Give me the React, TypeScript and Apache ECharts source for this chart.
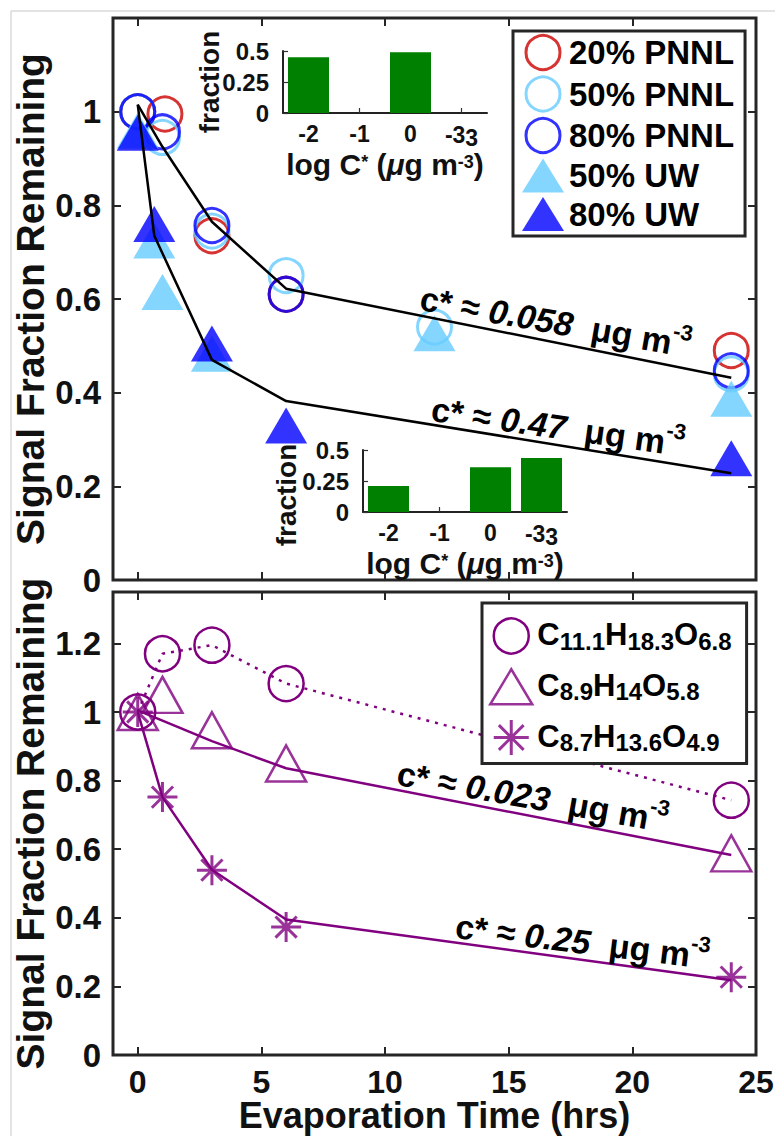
import React, { useEffect, useRef } from 'react';
import * as echarts from 'echarts';

// ---------- data ----------
const xTicks = [0, 5, 10, 15, 20, 25];
const yTicksTop = [0, 0.2, 0.4, 0.6, 0.8, 1];
const yTicksBottom = [0, 0.2, 0.4, 0.6, 0.8, 1, 1.2];

// top panel (time in hrs, signal fraction remaining)
const pnnl20 = [[0, 1.0], [1.1, 0.995], [3, 0.735], [6, 0.61], [24, 0.49]];
const pnnl50 = [[0, 1.0], [1, 0.945], [3, 0.745], [6, 0.65], [12, 0.54], [24, 0.44]];
const pnnl80 = [[0, 1.0], [1, 0.957], [3, 0.757], [6, 0.61], [24, 0.447]];
const uw50 = [[0, 0.96], [0.67, 0.725], [1, 0.615], [3, 0.483], [12, 0.527], [24, 0.387]];
const uw80 = [[0, 0.955], [0.67, 0.76], [3, 0.505], [6, 0.33], [24, 0.26]];
const fitTopA = [[0, 1.015], [1, 0.925], [3, 0.765], [6, 0.622], [24, 0.432]];
const fitTopB = [[0, 1.015], [0.67, 0.735], [3, 0.47], [6, 0.382], [24, 0.228]];

// bottom panel
const circData = [[0, 1.0], [1, 1.17], [3, 1.195], [6, 1.083], [24, 0.743]];
const triData = [[0, 1.0], [1, 1.05], [3, 0.947], [6, 0.85], [24, 0.588]];
const astData = [[0, 1.0], [1, 0.752], [3, 0.539], [6, 0.373], [24, 0.227]];
const fitTri = [[0, 1.005], [1, 0.975], [3, 0.915], [6, 0.836], [24, 0.583]];
const fitAst = [[0, 1.0], [1, 0.752], [3, 0.54], [6, 0.395], [24, 0.218]];

// insets
const logC = [-2, -1, 0, 1];
const logCLabels = ['-2', '-1', '0', '{a|-3}{b|3}'];
const fracInset1 = [0.45, 0, 0.49, 0];
const fracInset2 = [0.21, 0, 0.36, 0.435];
const insetYTicks = [0, 0.25, 0.5];

const legendTop = ['20% PNNL', '50% PNNL', '80% PNNL', '50% UW', '80% UW'];
const legendBottom = ['C11.1H18.3O6.8', 'C8.9H14O5.8', 'C8.7H13.6O4.9'];
const legendBottomRich: Record<string, string> = {
  'C11.1H18.3O6.8': '{n|C}{s|11.1}{n|H}{s|18.3}{n|O}{s|6.8}',
  'C8.9H14O5.8': '{n|C}{s|8.9}{n|H}{s|14}{n|O}{s|5.8}',
  'C8.7H13.6O4.9': '{n|C}{s|8.7}{n|H}{s|13.6}{n|O}{s|4.9}',
};

// ---------- styles ----------
const FONT = "'Liberation Sans', Arial, Helvetica, sans-serif";
const RED = '#cc0000';
const LB = '#66ccff';
const BLUE = '#0000ff';
const PURPLE = '#800080';
const GREEN = '#008000';
const FRAME = '#262626';
const NOFILL = 'rgba(0,0,0,0)';
const ASTER = 'path://M0,-10L0,10M-10,0L10,0M-7.07,-7.07L7.07,7.07M-7.07,7.07L7.07,-7.07';

const tickStyle = () => ({ inside: true, length: 8, lineStyle: { color: FRAME, width: 2 } });

function mainX(gridIndex: number, position: 'top' | 'bottom', labels: boolean, name?: string) {
  return {
    type: 'value', gridIndex, position, min: -1, max: 25,
    axisLine: { show: false, onZero: false },
    splitLine: { show: false },
    axisTick: { ...tickStyle(), customValues: xTicks },
    axisLabel: labels
      ? { show: true, customValues: xTicks, margin: 14, fontFamily: FONT, fontSize: 32, fontWeight: 'bold', color: '#111', lineHeight: 26 }
      : { show: false },
    name: name || '',
    nameLocation: 'middle', nameGap: 44, nameMoveOverlap: false,
    nameTextStyle: { fontFamily: FONT, fontSize: 36, fontWeight: 'bold', color: '#111', lineHeight: 32 },
  };
}

function mainY(gridIndex: number, position: 'left' | 'right', labels: boolean, max: number, ticks: number[]) {
  return {
    type: 'value', gridIndex, position, min: 0, max,
    axisLine: { show: false, onZero: false },
    splitLine: { show: false },
    axisTick: { ...tickStyle(), customValues: ticks },
    axisLabel: labels
      ? { show: true, customValues: ticks, margin: 12, fontFamily: FONT, fontSize: 33, fontWeight: 'bold', color: '#111' }
      : { show: false },
    name: labels ? 'Signal Fraction Remaining' : '',
    nameLocation: 'middle', nameGap: 63, nameMoveOverlap: false,
    nameTextStyle: { fontFamily: FONT, fontSize: 39, fontWeight: 'bold', color: '#111', lineHeight: 40 },
  };
}

const insetAxisLine = () => ({ show: true, onZero: false, lineStyle: { color: '#222222', width: 2 } });
const insetTick = () => ({ show: true, inside: true, length: 5, lineStyle: { color: '#333333', width: 1.2 } });

function insetX(gridIndex: number) {
  return {
    type: 'value', gridIndex, position: 'bottom', min: -2.5, max: 1.5,
    axisLine: insetAxisLine(), splitLine: { show: false },
    axisTick: { ...insetTick(), customValues: logC },
    axisLabel: {
      show: true, customValues: logC, margin: 10,
      formatter: (v: number) => logCLabels[logC.indexOf(Math.round(v))] ?? '',
      fontFamily: FONT, fontSize: 23, fontWeight: 'bold', color: '#111', lineHeight: 22,
      rich: {
        a: { fontFamily: FONT, fontSize: 23, fontWeight: 'bold', color: '#111', lineHeight: 22, verticalAlign: 'top' },
        b: { fontFamily: FONT, fontSize: 23, fontWeight: 'bold', color: '#111', lineHeight: 26, verticalAlign: 'bottom' },
      },
    },
    name: '{m|log C}{sup|*}{m| (}{mu|μ}{m|g m}{sup|-3}{m|)}',
    nameLocation: 'middle', nameGap: 40, nameMoveOverlap: false,
    nameTextStyle: {
      fontFamily: FONT, fontSize: 30, fontWeight: 'bold', color: '#111',
      rich: {
        m: { fontFamily: FONT, fontSize: 30, fontWeight: 'bold', color: '#111', lineHeight: 26, verticalAlign: 'bottom' },
        mu: { fontFamily: FONT, fontSize: 30, fontWeight: 'bold', fontStyle: 'italic', color: '#111', lineHeight: 26, verticalAlign: 'bottom' },
        sup: { fontFamily: FONT, fontSize: 18, fontWeight: 'bold', color: '#111', lineHeight: 16, verticalAlign: 'top' },
      },
    },
  };
}

function insetY(gridIndex: number, gap: number, shiftDown: number) {
  return {
    type: 'value', gridIndex, position: 'left', min: 0, max: 0.5,
    axisLine: insetAxisLine(), splitLine: { show: false },
    axisTick: { ...insetTick(), customValues: insetYTicks },
    axisLabel: { show: true, customValues: insetYTicks, margin: 14, fontFamily: FONT, fontSize: 24, fontWeight: 'bold', color: '#111' },
    name: 'fraction', nameLocation: 'middle', nameGap: gap, nameMoveOverlap: false,
    nameTextStyle: {
      fontFamily: FONT, fontSize: 28, fontWeight: 'bold', color: '#111', lineHeight: 30,
      padding: [0, shiftDown * 2, 0, 0],
    },
  };
}

function annotation(x: number, y: number, deg: number, num: string) {
  const base = { fontFamily: FONT, fontSize: 34, fontWeight: 'bold', fill: '#000', lineHeight: 40, verticalAlign: 'bottom' };
  return {
    type: 'text', x, y, rotation: (-deg * Math.PI) / 180, z: 100,
    style: {
      text: `{b|c* ≈ }{i|${num}}{b|  μg m}{s|-3}`,
      align: 'left', verticalAlign: 'middle', fill: '#000',
      fontFamily: FONT, fontSize: 34, fontWeight: 'bold',
      rich: {
        b: base,
        i: { ...base, fontStyle: 'italic' },
        s: { fontFamily: FONT, fontSize: 22, fontWeight: 'bold', fill: '#000', lineHeight: 34, verticalAlign: 'top' },
      },
    },
  };
}

const hollow = (c: string, w = 3) => ({ color: NOFILL, borderColor: c, borderWidth: w });

function buildOption() {
  const circleTop = (name: string, data: number[][], c: string) => ({
    type: 'scatter', name, xAxisIndex: 0, yAxisIndex: 0, data,
    symbol: 'circle', symbolSize: 34, itemStyle: hollow(c, 3), emphasis: { disabled: true },
  });
  const triTop = (name: string, data: number[][], c: string) => ({
    type: 'scatter', name, xAxisIndex: 0, yAxisIndex: 0, data,
    symbol: 'triangle', symbolSize: [42, 36], itemStyle: { color: c }, emphasis: { disabled: true },
  });
  const fitLine = (name: string, data: number[][], c: string, xi: number) => ({
    type: 'line', name, xAxisIndex: xi, yAxisIndex: xi, data, symbol: 'none',
    lineStyle: { color: c, width: 2.5 }, emphasis: { disabled: true }, z: 3,
  });
  const bars = (xi: number, fr: number[]) => ({
    type: 'bar', xAxisIndex: xi, yAxisIndex: xi, name: 'inset' + xi,
    data: logC.map((x, i) => [x, fr[i]]).filter((d) => d[1] > 0),
    barWidth: 41, itemStyle: { color: GREEN }, emphasis: { disabled: true },
  });

  return {
    animation: false,
    backgroundColor: '#ffffff',
    grid: [
      { left: 113, top: 18, width: 643, height: 562, show: true, borderColor: FRAME, borderWidth: 3, backgroundColor: NOFILL, outerBoundsMode: 'none', containLabel: false },
      { left: 113, top: 592, width: 643, height: 463, show: true, borderColor: FRAME, borderWidth: 3, backgroundColor: NOFILL, outerBoundsMode: 'none', containLabel: false },
      { left: 283, top: 51, width: 204, height: 62, outerBoundsMode: 'none', containLabel: false },
      { left: 363, top: 450, width: 204, height: 62, outerBoundsMode: 'none', containLabel: false },
    ],
    xAxis: [
      mainX(0, 'bottom', false),
      mainX(1, 'bottom', true, 'Evaporation Time (hrs)'),
      insetX(2),
      insetX(3),
      mainX(0, 'top', false),
      mainX(1, 'top', false),
    ],
    yAxis: [
      mainY(0, 'left', true, 1.2, yTicksTop),
      mainY(1, 'left', true, 1.35, yTicksBottom),
      insetY(2, 59, 0),
      insetY(3, 62, 14),
      mainY(0, 'right', false, 1.2, yTicksTop),
      mainY(1, 'right', false, 1.35, yTicksBottom),
    ],
    legend: [
      {
        orient: 'vertical', left: 513, top: 31, padding: [3, 11, 5, 9],
        itemWidth: 42, itemHeight: 34, itemGap: 4.5, selectedMode: false,
        borderColor: FRAME, borderWidth: 3, backgroundColor: '#fff', borderRadius: 0,
        textStyle: { fontFamily: FONT, fontSize: 33, fontWeight: 'bold', color: '#000', lineHeight: 34 },
        data: [
          { name: legendTop[0], icon: 'circle', itemStyle: hollow(RED, 3) },
          { name: legendTop[1], icon: 'circle', itemStyle: hollow(LB, 3) },
          { name: legendTop[2], icon: 'circle', itemStyle: hollow(BLUE, 3) },
          { name: legendTop[3], icon: 'triangle', itemStyle: { color: LB, borderWidth: 0 } },
          { name: legendTop[4], icon: 'triangle', itemStyle: { color: BLUE, borderWidth: 0 } },
        ],
      },
      {
        orient: 'vertical', left: 482, top: 603, padding: [6, 15, 7, 7],
        itemWidth: 42, itemHeight: 35, itemGap: 5, selectedMode: false,
        borderColor: FRAME, borderWidth: 3, backgroundColor: '#fff', borderRadius: 0,
        formatter: (name: string) => legendBottomRich[name] || name,
        textStyle: {
          fontFamily: FONT, fontSize: 31, fontWeight: 'bold', color: '#000',
          rich: {
            n: { fontFamily: FONT, fontSize: 31, fontWeight: 'bold', color: '#000', lineHeight: 34, verticalAlign: 'top' },
            s: { fontFamily: FONT, fontSize: 24, fontWeight: 'bold', color: '#000', lineHeight: 24, padding: [20, 0, 0, 0], verticalAlign: 'bottom' },
          },
        },
        data: [
          { name: legendBottom[0], icon: 'circle', itemStyle: hollow(PURPLE, 2.5) },
          { name: legendBottom[1], icon: 'triangle', itemStyle: hollow(PURPLE, 2.5) },
          { name: legendBottom[2], icon: ASTER, itemStyle: hollow(PURPLE, 3) },
        ],
      },
    ],
    series: [
      circleTop(legendTop[0], pnnl20, RED),
      circleTop(legendTop[1], pnnl50, LB),
      circleTop(legendTop[2], pnnl80, BLUE),
      triTop(legendTop[3], uw50, LB),
      triTop(legendTop[4], uw80, BLUE),
      fitLine('fitTopA', fitTopA, '#000', 0),
      fitLine('fitTopB', fitTopB, '#000', 0),
      fitLine('fitTri', fitTri, PURPLE, 1),
      fitLine('fitAst', fitAst, PURPLE, 1),
      {
        type: 'line', name: legendBottom[0], xAxisIndex: 1, yAxisIndex: 1, data: circData,
        symbol: 'circle', symbolSize: 35, showAllSymbol: true,
        itemStyle: hollow(PURPLE, 2.5),
        lineStyle: { color: PURPLE, width: 2.5, type: [3, 6] },
        emphasis: { disabled: true },
      },
      {
        type: 'scatter', name: legendBottom[1], xAxisIndex: 1, yAxisIndex: 1, data: triData,
        symbol: 'triangle', symbolSize: [40, 36], itemStyle: hollow(PURPLE, 2.5), emphasis: { disabled: true }, z: 4,
      },
      {
        type: 'scatter', name: legendBottom[2], xAxisIndex: 1, yAxisIndex: 1, data: astData,
        symbol: ASTER, symbolSize: 30, itemStyle: hollow(PURPLE, 3), emphasis: { disabled: true }, z: 4,
      },
      bars(2, fracInset1),
      bars(3, fracInset2),
    ],
    graphic: [
      { type: 'line', shape: { x1: 11, y1: 11, x2: 775, y2: 11 }, style: { stroke: '#c8c8c8', lineWidth: 1 } },
      { type: 'line', shape: { x1: 11, y1: 11, x2: 11, y2: 1136 }, style: { stroke: '#c8c8c8', lineWidth: 1 } },
      annotation(421, 295, 10, '0.058'),
      annotation(432, 406, 8, '0.47'),
      annotation(398, 770, 10, '0.023'),
      annotation(456, 923, 7, '0.25'),
    ],
  };
}

export default function App() {
  const ref = useRef<HTMLDivElement>(null);
  useEffect(() => {
    if (!ref.current) return;
    const chart = echarts.init(ref.current, null, { renderer: 'svg' });
    chart.setOption(buildOption() as any);
    return () => chart.dispose();
  }, []);
  return (
    <div
      ref={ref}
      style={{ position: 'absolute', left: 0, top: 0, width: 775, height: 1136, background: '#fff' }}
    />
  );
}
